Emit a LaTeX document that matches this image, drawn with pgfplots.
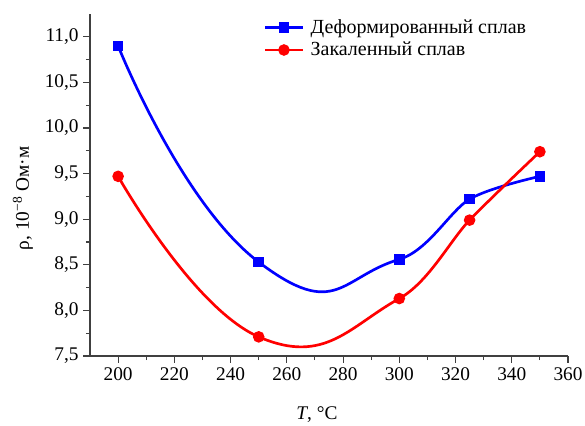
\documentclass[border=0pt]{standalone}
\usepackage{pgfplots}
\pgfplotsset{compat=1.18}
\usepackage{fontspec}
\setmainfont{Liberation Serif}
\begin{document}
\begin{tikzpicture}
\begin{axis}[
  name=ax,
  scale only axis,
  width=358.5pt, height=256.5pt,
  xmin=190, xmax=360, ymin=7.5, ymax=11.25,
  axis lines=left,
  axis line style={-, line width=1pt, black!75},
  xtick={200,220,...,360},
  ytick={7.5,8,...,11},
  minor x tick num=1,
  minor y tick num=1,
  tick align=outside,
  major tick length=5pt,
  minor tick length=3pt,
  tick style={line width=0.8pt, black!75},
  /pgf/number format/assume math mode=true,
  yticklabel style={/pgf/number format/.cd, use comma, fixed, fixed zerofill, precision=1},
  xticklabel style={/pgf/number format/.cd, fixed},
  ticklabel style={font=\fontsize{14.5}{16}\selectfont},
  label style={font=\fontsize{14.5}{16}\selectfont},
  xlabel={\textit{T}, °C},
  ylabel={ρ, 10\textsuperscript{−8} Ом·м},
  xlabel style={yshift=-13pt, xshift=-9pt},
  ylabel style={yshift=2pt, xshift=-10pt},
  legend style={draw=none, fill=none, at={(0.355,1.0)}, anchor=north west,
    font=\fontsize{15}{17}\selectfont, row sep=1pt,
    nodes={inner xsep=5pt}},
  legend cell align=left,
  legend image code/.code={\draw[mark repeat=2, mark phase=2, #1] plot coordinates {(0pt,0pt) (14pt,0pt) (28pt,0pt)};},
  clip=false,
]
\begin{scope}
\clip (axis cs:185,7) rectangle (axis cs:300,12);
\addplot[blue, line width=2pt, smooth, tension=1.0, forget plot]
  coordinates {(200,10.9) (250,8.53) (300,8.56) (325,9.22)};
\addplot[red, line width=2pt, smooth, tension=0.85, forget plot]
  coordinates {(200,9.47) (250,7.71) (300,8.13) (325,8.99)};
\end{scope}
\begin{scope}
\clip (axis cs:300,7) rectangle (axis cs:365,12);
\addplot[blue, line width=2pt, smooth, tension=0.5, forget plot]
  coordinates {(250,8.53) (300,8.56) (325,9.22) (350,9.47)};
\addplot[red, line width=2pt, smooth, tension=0.5, forget plot]
  coordinates {(250,7.71) (300,8.13) (325,8.99) (350,9.74)};
\end{scope}
\addplot[blue, line width=2pt, mark=square*, mark size=3pt, only marks, forget plot]
  coordinates {(200,10.9) (250,8.53) (300,8.56) (325,9.22) (350,9.47)};
\addplot[red, line width=2pt, mark=*, mark size=3.3pt, only marks, forget plot]
  coordinates {(200,9.47) (250,7.71) (300,8.13) (325,8.99) (350,9.74)};
\addlegendimage{blue, line width=2pt, mark=square*, mark size=3pt}
\addlegendentry{Деформированный сплав}
\addlegendimage{red, line width=2pt, mark=*, mark size=3.3pt}
\addlegendentry{Закаленный сплав}
\end{axis}
\pgfresetboundingbox
\path ([shift={(-67.5pt,-51.75pt)}]ax.south west) rectangle ([shift={(12.75pt,10.5pt)}]ax.north east);
\end{tikzpicture}
\end{document}
